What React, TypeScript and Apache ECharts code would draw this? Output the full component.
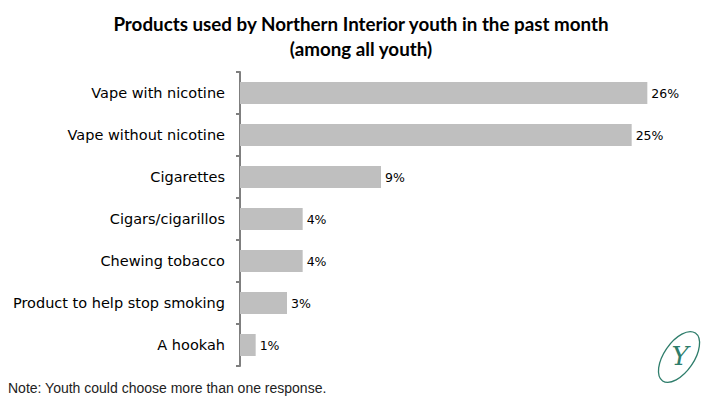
import React, { useEffect, useRef } from "react";
import * as echarts from "echarts";

const categories = [
  "Vape with nicotine",
  "Vape without nicotine",
  "Cigarettes",
  "Cigars/cigarillos",
  "Chewing tobacco",
  "Product to help stop smoking",
  "A hookah",
];
const values = [26, 25, 9, 4, 4, 3, 1];
const titleLines = [
  "Products used by Northern Interior youth in the past month",
  "(among all youth)",
];
const note = "Note: Youth could choose more than one response.";

export default function App() {
  const ref = useRef<HTMLDivElement>(null);
  useEffect(() => {
    document.body.style.margin = "0";
    if (!ref.current) return;
    const chart = echarts.init(ref.current, null, { renderer: "svg" });
    chart.setOption({
      animation: false,
      backgroundColor: "#ffffff",
      title: {
        text: titleLines.join("\n"),
        left: 356,
        textAlign: "center",
        top: 6,
        textStyle: {
          fontFamily: "Lato",
          fontWeight: "bold",
          fontSize: 18.8,
          lineHeight: 25,
          color: "#000000",
        },
      },
      grid: { left: 240, top: 72, height: 294, width: 470 },
      xAxis: {
        type: "value",
        min: 0,
        max: 30,
        show: false,
      },
      yAxis: {
        type: "category",
        data: categories,
        inverse: true,
        axisLine: { show: true, lineStyle: { color: "#7f7f7f", width: 2 } },
        axisTick: { show: true, length: 4, lineStyle: { color: "#7f7f7f", width: 2 } },
        axisLabel: {
          margin: 15,
          fontFamily: "DejaVu Sans",
          fontSize: 14.5,
          color: "#000000",
        },
        splitLine: { show: false },
      },
      series: [
        {
          type: "bar",
          data: values,
          barWidth: 22,
          itemStyle: { color: "#bfbfbf" },
          label: {
            show: true,
            position: "right",
            distance: 4,
            formatter: "{c}%",
            fontFamily: "DejaVu Sans",
            fontSize: 12.5,
            color: "#000000",
          },
        },
      ],
      graphic: [
        {
          type: "text",
          left: 8,
          top: 381,
          style: {
            text: note,
            fontFamily: "Liberation Sans",
            fontSize: 14,
            fill: "#222222",
          },
        },
        {
          type: "ellipse",
          shape: { cx: 0, cy: 0, rx: 15, ry: 29 },
          x: 679,
          y: 357,
          rotation: -0.6,
          style: { fill: "none", stroke: "#2e7d6b", lineWidth: 1.3 },
        },
        {
          type: "text",
          x: 680,
          y: 356,
          style: {
            text: "Y",
            fontFamily: "DejaVu Serif",
            fontStyle: "italic",
            fontSize: 26,
            fill: "#2e7d6b",
            align: "center",
            verticalAlign: "middle",
          },
        },
      ],
    });
    return () => chart.dispose();
  }, []);
  return <div ref={ref} style={{ width: 720, height: 405 }} />;
}
